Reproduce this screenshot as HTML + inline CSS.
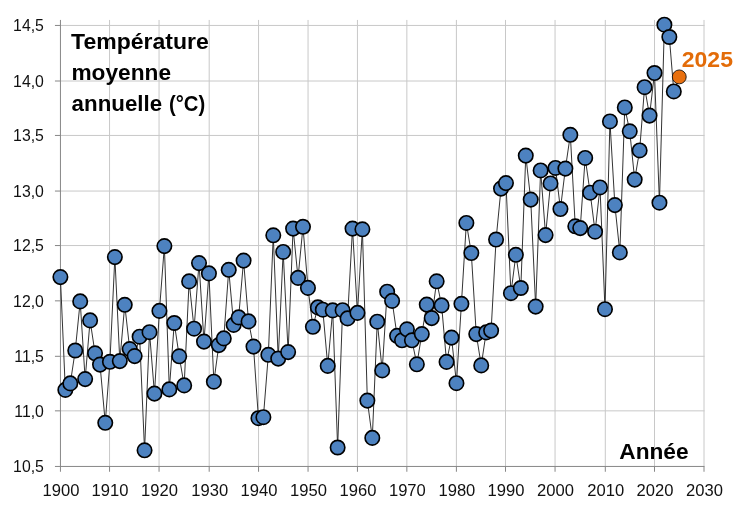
<!DOCTYPE html>
<html lang="fr"><head><meta charset="utf-8"><title>Température moyenne annuelle</title>
<style>
html,body{margin:0;padding:0;background:#fff;}
body{width:747px;height:512px;overflow:hidden;}
svg{display:block;}
text{font-family:"Liberation Sans",sans-serif;}
.tk{fill:#111;}
.b{font-weight:bold;fill:#000;}
</style></head><body>
<svg width="747" height="512" viewBox="0 0 747 512">
<rect width="747" height="512" fill="#fff"/>
<g stroke="#c8c8c8" stroke-width="1" fill="none"><line x1="109.55" y1="19.95" x2="109.55" y2="466.45"/><line x1="159.05" y1="19.95" x2="159.05" y2="466.45"/><line x1="209.20" y1="19.95" x2="209.20" y2="466.45"/><line x1="258.55" y1="19.95" x2="258.55" y2="466.45"/><line x1="308.05" y1="19.95" x2="308.05" y2="466.45"/><line x1="357.45" y1="19.95" x2="357.45" y2="466.45"/><line x1="406.85" y1="19.95" x2="406.85" y2="466.45"/><line x1="456.40" y1="19.95" x2="456.40" y2="466.45"/><line x1="505.50" y1="19.95" x2="505.50" y2="466.45"/><line x1="555.05" y1="19.95" x2="555.05" y2="466.45"/><line x1="605.30" y1="19.95" x2="605.30" y2="466.45"/><line x1="654.50" y1="19.95" x2="654.50" y2="466.45"/><line x1="704.00" y1="19.95" x2="704.00" y2="466.45"/><line x1="60.45" y1="25.45" x2="704.50" y2="25.45"/><line x1="60.45" y1="81.00" x2="704.50" y2="81.00"/><line x1="60.45" y1="135.45" x2="704.50" y2="135.45"/><line x1="60.45" y1="191.05" x2="704.50" y2="191.05"/><line x1="60.45" y1="245.55" x2="704.50" y2="245.55"/><line x1="60.45" y1="300.85" x2="704.50" y2="300.85"/><line x1="60.45" y1="356.30" x2="704.50" y2="356.30"/><line x1="60.45" y1="410.85" x2="704.50" y2="410.85"/></g>
<g stroke="#868686" stroke-width="1" fill="none"><line x1="60.45" y1="19.95" x2="60.45" y2="471.75"/><line x1="54.95" y1="466.45" x2="704.50" y2="466.45"/><line x1="109.55" y1="466.45" x2="109.55" y2="471.75"/><line x1="159.05" y1="466.45" x2="159.05" y2="471.75"/><line x1="209.20" y1="466.45" x2="209.20" y2="471.75"/><line x1="258.55" y1="466.45" x2="258.55" y2="471.75"/><line x1="308.05" y1="466.45" x2="308.05" y2="471.75"/><line x1="357.45" y1="466.45" x2="357.45" y2="471.75"/><line x1="406.85" y1="466.45" x2="406.85" y2="471.75"/><line x1="456.40" y1="466.45" x2="456.40" y2="471.75"/><line x1="505.50" y1="466.45" x2="505.50" y2="471.75"/><line x1="555.05" y1="466.45" x2="555.05" y2="471.75"/><line x1="605.30" y1="466.45" x2="605.30" y2="471.75"/><line x1="654.50" y1="466.45" x2="654.50" y2="471.75"/><line x1="704.00" y1="466.45" x2="704.00" y2="471.75"/><line x1="54.95" y1="25.45" x2="60.45" y2="25.45"/><line x1="54.95" y1="81.00" x2="60.45" y2="81.00"/><line x1="54.95" y1="135.45" x2="60.45" y2="135.45"/><line x1="54.95" y1="191.05" x2="60.45" y2="191.05"/><line x1="54.95" y1="245.55" x2="60.45" y2="245.55"/><line x1="54.95" y1="300.85" x2="60.45" y2="300.85"/><line x1="54.95" y1="356.30" x2="60.45" y2="356.30"/><line x1="54.95" y1="410.85" x2="60.45" y2="410.85"/></g>
<g opacity="0.999">
<text class="tk" font-size="16.5" text-anchor="end" transform="translate(43.90 31.25) scale(0.9600 1)">14,5</text>
<text class="tk" font-size="16.5" text-anchor="end" transform="translate(43.90 86.80) scale(0.9600 1)">14,0</text>
<text class="tk" font-size="16.5" text-anchor="end" transform="translate(43.90 141.25) scale(0.9600 1)">13,5</text>
<text class="tk" font-size="16.5" text-anchor="end" transform="translate(43.90 196.85) scale(0.9600 1)">13,0</text>
<text class="tk" font-size="16.5" text-anchor="end" transform="translate(43.90 251.35) scale(0.9600 1)">12,5</text>
<text class="tk" font-size="16.5" text-anchor="end" transform="translate(43.90 306.65) scale(0.9600 1)">12,0</text>
<text class="tk" font-size="16.5" text-anchor="end" transform="translate(43.90 362.10) scale(0.9600 1)">11,5</text>
<text class="tk" font-size="16.5" text-anchor="end" transform="translate(43.90 416.65) scale(0.9600 1)">11,0</text>
<text class="tk" font-size="16.5" text-anchor="end" transform="translate(43.90 472.25) scale(0.9600 1)">10,5</text>
<text class="tk" font-size="16.5" text-anchor="middle" transform="translate(60.95 495.80) scale(1.0050 1)">1900</text>
<text class="tk" font-size="16.5" text-anchor="middle" transform="translate(110.05 495.80) scale(1.0050 1)">1910</text>
<text class="tk" font-size="16.5" text-anchor="middle" transform="translate(159.55 495.80) scale(1.0050 1)">1920</text>
<text class="tk" font-size="16.5" text-anchor="middle" transform="translate(209.70 495.80) scale(1.0050 1)">1930</text>
<text class="tk" font-size="16.5" text-anchor="middle" transform="translate(259.05 495.80) scale(1.0050 1)">1940</text>
<text class="tk" font-size="16.5" text-anchor="middle" transform="translate(308.55 495.80) scale(1.0050 1)">1950</text>
<text class="tk" font-size="16.5" text-anchor="middle" transform="translate(357.95 495.80) scale(1.0050 1)">1960</text>
<text class="tk" font-size="16.5" text-anchor="middle" transform="translate(407.35 495.80) scale(1.0050 1)">1970</text>
<text class="tk" font-size="16.5" text-anchor="middle" transform="translate(456.90 495.80) scale(1.0050 1)">1980</text>
<text class="tk" font-size="16.5" text-anchor="middle" transform="translate(506.00 495.80) scale(1.0050 1)">1990</text>
<text class="tk" font-size="16.5" text-anchor="middle" transform="translate(555.55 495.80) scale(1.0050 1)">2000</text>
<text class="tk" font-size="16.5" text-anchor="middle" transform="translate(605.80 495.80) scale(1.0050 1)">2010</text>
<text class="tk" font-size="16.5" text-anchor="middle" transform="translate(655.00 495.80) scale(1.0050 1)">2020</text>
<text class="tk" font-size="16.5" text-anchor="middle" transform="translate(704.50 495.80) scale(1.0050 1)">2030</text>
<text class="b" font-size="22.25" text-anchor="start" transform="translate(71.07 49.10) scale(1.0348 1)">Température</text>
<text class="b" font-size="22.25" text-anchor="start" transform="translate(71.40 79.60) scale(1.0202 1)">moyenne</text>
<text class="b" font-size="22.25" text-anchor="start" transform="translate(71.62 110.60) scale(1.0029 1)">annuelle</text>
<text class="b" font-size="22.25" text-anchor="start" transform="translate(168.96 110.60) scale(0.9103 1)">(°C)</text>
<text class="b" font-size="22.25" text-anchor="start" transform="translate(619.27 458.85) scale(1.0191 1)">Année</text>
<text class="b" font-size="22.25" text-anchor="start" transform="translate(681.78 67.40) scale(1.0347 1)" style="fill:#e36c09">2025</text>
</g>
<polyline points="60.40,277.1 65.35,389.9 70.30,383.4 75.25,350.5 80.20,301.4 85.15,379.1 90.10,320.4 95.06,353.3 100.01,364.6 105.26,422.8 109.91,361.8 114.86,257.1 119.81,361.1 124.76,304.8 129.71,349.1 134.66,356.1 139.61,336.7 144.56,450.3 149.51,332.2 154.46,393.6 159.42,310.9 164.37,246.1 169.32,389.4 174.27,323.0 179.22,356.3 184.17,385.4 189.12,281.4 194.07,328.7 199.02,263.1 203.97,341.6 208.92,273.4 213.87,381.7 218.82,345.1 223.78,338.4 228.73,269.8 233.68,324.9 238.63,317.4 243.58,260.6 248.53,321.4 253.48,346.6 258.43,418.2 263.38,417.2 268.33,354.8 273.28,235.3 278.23,358.6 283.18,251.9 288.14,352.1 293.09,228.6 298.04,277.9 302.99,226.8 307.94,287.9 312.89,326.8 317.84,307.4 322.79,309.7 327.74,365.9 332.69,310.4 337.64,447.5 342.59,310.2 347.54,318.4 352.50,228.6 357.45,312.9 362.40,229.3 367.35,400.6 372.30,437.9 377.25,321.7 382.20,370.4 387.15,291.7 392.10,300.9 397.05,335.8 402.00,340.3 406.95,329.3 411.90,340.3 416.86,364.3 421.81,334.1 426.76,304.6 431.71,318.1 436.66,281.3 441.61,305.4 446.56,361.9 451.51,337.6 456.46,383.2 461.41,303.8 466.36,222.9 471.31,253.0 476.26,334.1 481.22,365.4 486.17,332.4 491.12,330.6 496.07,239.5 501.02,188.6 505.97,183.1 510.92,293.2 515.87,254.8 520.82,288.0 525.77,155.6 530.72,199.6 535.67,306.6 540.62,170.4 545.58,235.1 550.53,183.4 555.48,167.9 560.43,209.0 565.38,168.6 570.33,134.8 575.28,226.3 580.23,228.1 585.18,157.9 590.13,192.7 595.08,231.7 600.03,187.4 604.98,309.2 609.94,121.4 614.89,205.1 619.84,252.4 624.79,107.4 629.74,131.3 634.69,179.6 639.64,150.4 644.59,87.2 649.54,115.6 654.49,73.0 659.44,202.7 664.39,24.7 669.34,37.0 673.80,91.4 679.25,76.9" fill="none" stroke="#1c1c1c" stroke-width="0.9" stroke-linejoin="round"/>
<g fill="#4d82c0" stroke="#000" stroke-width="1.65"><circle cx="60.40" cy="277.1" r="7.2"/><circle cx="65.35" cy="389.9" r="7.2"/><circle cx="70.30" cy="383.4" r="7.2"/><circle cx="75.25" cy="350.5" r="7.2"/><circle cx="80.20" cy="301.4" r="7.2"/><circle cx="85.15" cy="379.1" r="7.2"/><circle cx="90.10" cy="320.4" r="7.2"/><circle cx="95.06" cy="353.3" r="7.2"/><circle cx="100.01" cy="364.6" r="7.2"/><circle cx="105.26" cy="422.8" r="7.2"/><circle cx="109.91" cy="361.8" r="7.2"/><circle cx="114.86" cy="257.1" r="7.2"/><circle cx="119.81" cy="361.1" r="7.2"/><circle cx="124.76" cy="304.8" r="7.2"/><circle cx="129.71" cy="349.1" r="7.2"/><circle cx="134.66" cy="356.1" r="7.2"/><circle cx="139.61" cy="336.7" r="7.2"/><circle cx="144.56" cy="450.3" r="7.2"/><circle cx="149.51" cy="332.2" r="7.2"/><circle cx="154.46" cy="393.6" r="7.2"/><circle cx="159.42" cy="310.9" r="7.2"/><circle cx="164.37" cy="246.1" r="7.2"/><circle cx="169.32" cy="389.4" r="7.2"/><circle cx="174.27" cy="323.0" r="7.2"/><circle cx="179.22" cy="356.3" r="7.2"/><circle cx="184.17" cy="385.4" r="7.2"/><circle cx="189.12" cy="281.4" r="7.2"/><circle cx="194.07" cy="328.7" r="7.2"/><circle cx="199.02" cy="263.1" r="7.2"/><circle cx="203.97" cy="341.6" r="7.2"/><circle cx="208.92" cy="273.4" r="7.2"/><circle cx="213.87" cy="381.7" r="7.2"/><circle cx="218.82" cy="345.1" r="7.2"/><circle cx="223.78" cy="338.4" r="7.2"/><circle cx="228.73" cy="269.8" r="7.2"/><circle cx="233.68" cy="324.9" r="7.2"/><circle cx="238.63" cy="317.4" r="7.2"/><circle cx="243.58" cy="260.6" r="7.2"/><circle cx="248.53" cy="321.4" r="7.2"/><circle cx="253.48" cy="346.6" r="7.2"/><circle cx="258.43" cy="418.2" r="7.2"/><circle cx="263.38" cy="417.2" r="7.2"/><circle cx="268.33" cy="354.8" r="7.2"/><circle cx="273.28" cy="235.3" r="7.2"/><circle cx="278.23" cy="358.6" r="7.2"/><circle cx="283.18" cy="251.9" r="7.2"/><circle cx="288.14" cy="352.1" r="7.2"/><circle cx="293.09" cy="228.6" r="7.2"/><circle cx="298.04" cy="277.9" r="7.2"/><circle cx="302.99" cy="226.8" r="7.2"/><circle cx="307.94" cy="287.9" r="7.2"/><circle cx="312.89" cy="326.8" r="7.2"/><circle cx="317.84" cy="307.4" r="7.2"/><circle cx="322.79" cy="309.7" r="7.2"/><circle cx="327.74" cy="365.9" r="7.2"/><circle cx="332.69" cy="310.4" r="7.2"/><circle cx="337.64" cy="447.5" r="7.2"/><circle cx="342.59" cy="310.2" r="7.2"/><circle cx="347.54" cy="318.4" r="7.2"/><circle cx="352.50" cy="228.6" r="7.2"/><circle cx="357.45" cy="312.9" r="7.2"/><circle cx="362.40" cy="229.3" r="7.2"/><circle cx="367.35" cy="400.6" r="7.2"/><circle cx="372.30" cy="437.9" r="7.2"/><circle cx="377.25" cy="321.7" r="7.2"/><circle cx="382.20" cy="370.4" r="7.2"/><circle cx="387.15" cy="291.7" r="7.2"/><circle cx="392.10" cy="300.9" r="7.2"/><circle cx="397.05" cy="335.8" r="7.2"/><circle cx="402.00" cy="340.3" r="7.2"/><circle cx="406.95" cy="329.3" r="7.2"/><circle cx="411.90" cy="340.3" r="7.2"/><circle cx="416.86" cy="364.3" r="7.2"/><circle cx="421.81" cy="334.1" r="7.2"/><circle cx="426.76" cy="304.6" r="7.2"/><circle cx="431.71" cy="318.1" r="7.2"/><circle cx="436.66" cy="281.3" r="7.2"/><circle cx="441.61" cy="305.4" r="7.2"/><circle cx="446.56" cy="361.9" r="7.2"/><circle cx="451.51" cy="337.6" r="7.2"/><circle cx="456.46" cy="383.2" r="7.2"/><circle cx="461.41" cy="303.8" r="7.2"/><circle cx="466.36" cy="222.9" r="7.2"/><circle cx="471.31" cy="253.0" r="7.2"/><circle cx="476.26" cy="334.1" r="7.2"/><circle cx="481.22" cy="365.4" r="7.2"/><circle cx="486.17" cy="332.4" r="7.2"/><circle cx="491.12" cy="330.6" r="7.2"/><circle cx="496.07" cy="239.5" r="7.2"/><circle cx="501.02" cy="188.6" r="7.2"/><circle cx="505.97" cy="183.1" r="7.2"/><circle cx="510.92" cy="293.2" r="7.2"/><circle cx="515.87" cy="254.8" r="7.2"/><circle cx="520.82" cy="288.0" r="7.2"/><circle cx="525.77" cy="155.6" r="7.2"/><circle cx="530.72" cy="199.6" r="7.2"/><circle cx="535.67" cy="306.6" r="7.2"/><circle cx="540.62" cy="170.4" r="7.2"/><circle cx="545.58" cy="235.1" r="7.2"/><circle cx="550.53" cy="183.4" r="7.2"/><circle cx="555.48" cy="167.9" r="7.2"/><circle cx="560.43" cy="209.0" r="7.2"/><circle cx="565.38" cy="168.6" r="7.2"/><circle cx="570.33" cy="134.8" r="7.2"/><circle cx="575.28" cy="226.3" r="7.2"/><circle cx="580.23" cy="228.1" r="7.2"/><circle cx="585.18" cy="157.9" r="7.2"/><circle cx="590.13" cy="192.7" r="7.2"/><circle cx="595.08" cy="231.7" r="7.2"/><circle cx="600.03" cy="187.4" r="7.2"/><circle cx="604.98" cy="309.2" r="7.2"/><circle cx="609.94" cy="121.4" r="7.2"/><circle cx="614.89" cy="205.1" r="7.2"/><circle cx="619.84" cy="252.4" r="7.2"/><circle cx="624.79" cy="107.4" r="7.2"/><circle cx="629.74" cy="131.3" r="7.2"/><circle cx="634.69" cy="179.6" r="7.2"/><circle cx="639.64" cy="150.4" r="7.2"/><circle cx="644.59" cy="87.2" r="7.2"/><circle cx="649.54" cy="115.6" r="7.2"/><circle cx="654.49" cy="73.0" r="7.2"/><circle cx="659.44" cy="202.7" r="7.2"/><circle cx="664.39" cy="24.7" r="7.2"/><circle cx="669.34" cy="37.0" r="7.2"/><circle cx="673.80" cy="91.4" r="7.2"/></g>
<circle cx="679.25" cy="76.9" r="6.95" fill="#e8700f" stroke="#151210" stroke-width="0.9"/>
</svg></body></html>
